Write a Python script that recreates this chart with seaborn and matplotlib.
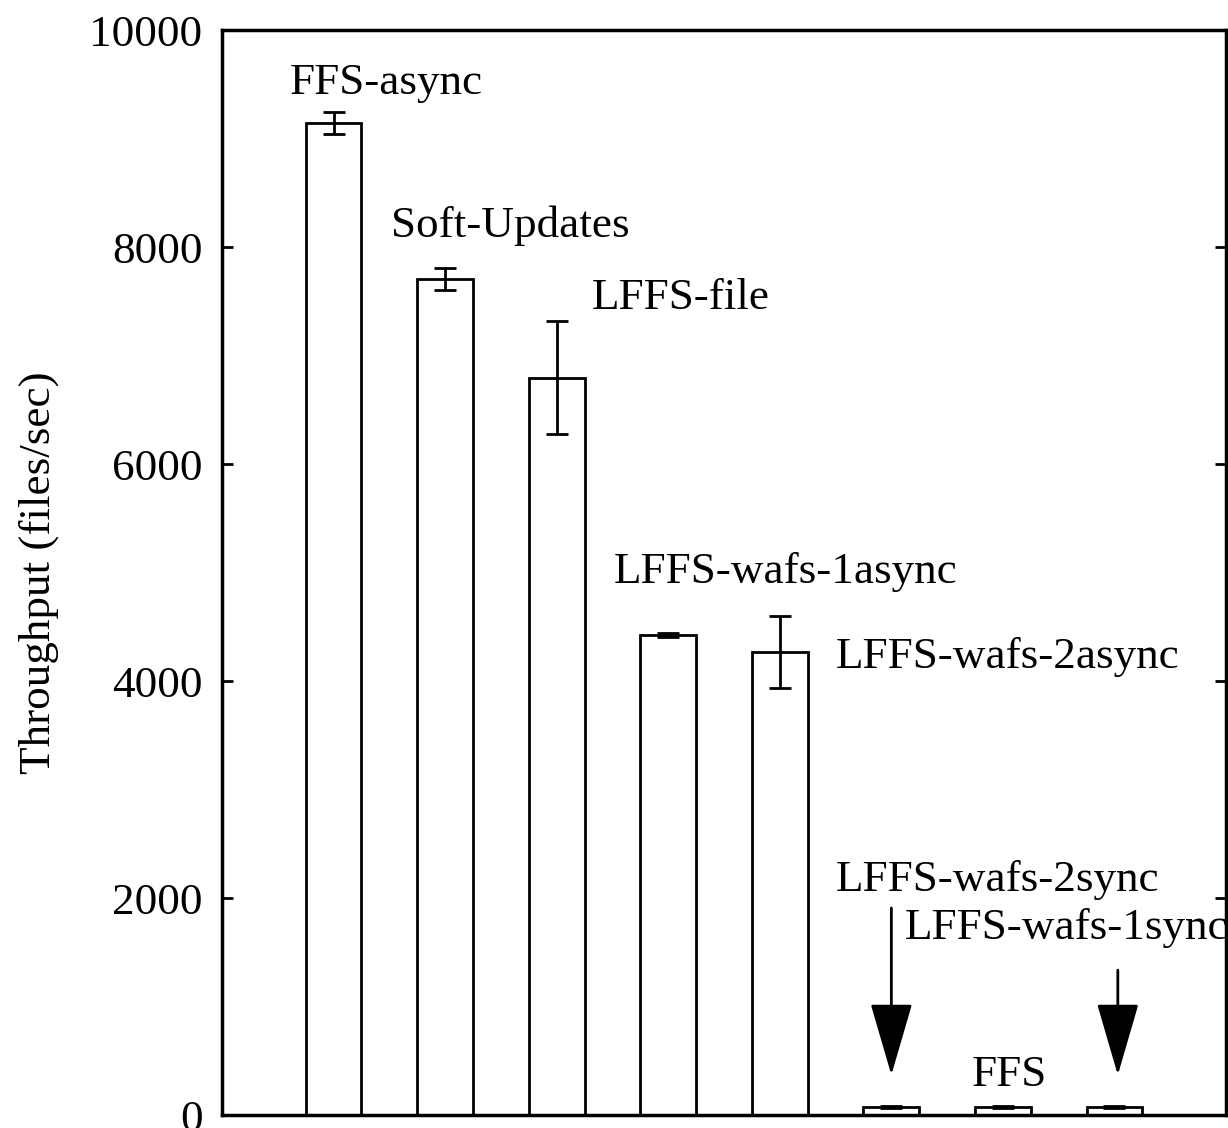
import matplotlib
matplotlib.use("Agg")
import matplotlib.pyplot as plt
import seaborn as sns
import numpy as np
import pandas as pd

# data
systems = ["FFS-async", "Soft-Updates", "LFFS-file", "LFFS-wafs-1async",
           "LFFS-wafs-2async", "LFFS-wafs-2sync", "FFS", "LFFS-wafs-1sync"]
throughput = [9140, 7705, 6795, 4425, 4265, 75, 75, 75]
errors = [100, 100, 520, 20, 330, 10, 10, 10]

y_ticks = [0, 2000, 4000, 6000, 8000, 10000]

# label placements (x in bar-index units, y in data units)
label_pos = {
    "FFS-async": (-0.39, 9510),
    "Soft-Updates": (0.515, 8200),
    "LFFS-file": (2.317, 7530),
    "LFFS-wafs-1async": (2.514, 5005),
    "LFFS-wafs-2async": (4.504, 4220),
    "LFFS-wafs-2sync": (4.504, 2166),
    "LFFS-wafs-1sync": (5.122, 1724),
    "FFS": (5.723, 369),
}
arrows = [(5, 1908, 369), (7.03, 1336, 369)]

df = pd.DataFrame({"system": systems, "throughput": throughput})

sns.set_style("white")
plt.rcParams["font.family"] = ["Liberation Serif", "DejaVu Serif"]
plt.rcParams["text.color"] = "black"
plt.rcParams["axes.labelcolor"] = "black"
plt.rcParams["ytick.color"] = "black"

fig = plt.figure(figsize=(12.28, 11.28), dpi=100)
ax = fig.add_axes([0.1808, 0.0115, 0.8176, 0.9619])

sns.barplot(data=df, x="system", y="throughput", order=systems,
            color="white", edgecolor="black", linewidth=2, width=0.5,
            errorbar=None, ax=ax)
ax.errorbar(np.arange(len(systems)), throughput, yerr=errors, fmt="none",
            ecolor="black", elinewidth=2, capsize=8, capthick=2)

for name, (x, y) in label_pos.items():
    ax.text(x, y, name, fontsize=32.5, ha="left", va="center", color="black")

for x, y0, y1 in arrows:
    ax.annotate("", xy=(x, y1), xytext=(x, y0),
                arrowprops=dict(arrowstyle="-|>,head_length=2.3,head_width=0.67",
                                mutation_scale=20, color="black", lw=2,
                                shrinkA=0, shrinkB=0))

ax.set_xlim(-1, 8)
ax.set_ylim(0, 10000)
ax.set_yticks(y_ticks)
ax.set_xticks([])
ax.set_xlabel("")
ax.set_ylabel("Throughput (files/sec)", fontsize=32.5, labelpad=22)
ax.tick_params(axis="y", direction="in", length=8, width=2, labelsize=32.5,
               right=True, left=True, pad=14, colors="black")
for sp in ax.spines.values():
    sp.set_visible(True)
    sp.set_color("black")
    sp.set_linewidth(2.5)

fig.savefig("out.png", dpi=100)
